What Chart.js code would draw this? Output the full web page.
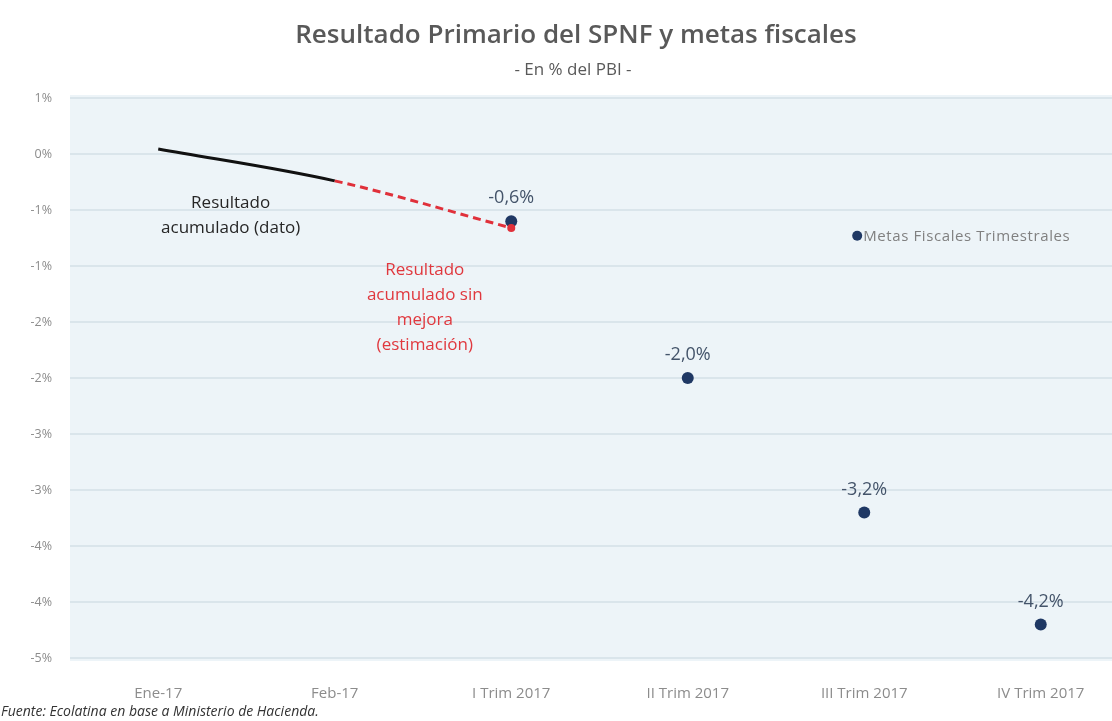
<!DOCTYPE html>
<html>
<head>
<meta charset="utf-8">
<script src="https://cdn.jsdelivr.net/npm/chart.js@4.4.1/dist/chart.umd.min.js"></script>
<style>
  html, body { margin: 0; padding: 0; background: #ffffff; overflow: hidden; }
  #wrap { position: relative; width: 1140px; height: 721px; }
  #title { position: absolute; left: 0; width: 1152px; top: 15px; text-align: center;
           font: 600 26px "Open Sans", sans-serif; color: #595959; }
  #subtitle { position: absolute; left: 0; width: 1146px; top: 57px; text-align: center;
              font: 17px "Open Sans", sans-serif; color: #595959; }
  #source { position: absolute; left: 1px; top: 701px;
            font: italic 14px "Open Sans", sans-serif; color: #333333; }
</style>
</head>
<body>
<div id="wrap">
  <canvas id="chart" width="1140" height="721"></canvas>
  <div id="title">Resultado Primario del SPNF y metas fiscales</div>
  <div id="subtitle">- En % del PBI -</div>
  <div id="source">Fuente: Ecolatina en base a Ministerio de Hacienda.</div>
</div>
<script>
// categories on the x axis
const labels = ['Ene-17', 'Feb-17', 'I Trim 2017', 'II Trim 2017', 'III Trim 2017', 'IV Trim 2017'];

// cumulative result: real data (Ene, Feb) then estimate without improvement (to I Trim)
const resultado = [0.045, -0.24, -0.66, null, null, null];
// quarterly fiscal targets
const metas = [null, null, -0.6, -2.0, -3.2, -4.2];
const metasLabels = ['', '', '-0,6%', '-2,0%', '-3,2%', '-4,2%'];

// y axis
const yMin = -4.5;
const yMax = 0.5;
const yStep = 0.5;

// text notes placed in data space: [category index, value of first line]
const noteDato = { lines: ['Resultado', 'acumulado (dato)'], at: [0.41, -0.44], color: '#262626' };
const noteEstim = { lines: ['Resultado', 'acumulado sin', 'mejora', '(estimación)'], at: [1.51, -1.04], color: '#e0383e' };
const legendAt = [3.96, -0.73];

const BLUE = '#1f3864';
const RED = '#e0303a';
const FONT = '"Open Sans", sans-serif';

const fmtPct = (v) => {
    let r = Math.round(Math.abs(v));
    if (r === 0) return '0%';
    return (v < 0 ? '-' : '') + r + '%';
};

const plotBg = {
    id: 'plotBg',
    beforeDraw(chart) {
        const { ctx, chartArea: a } = chart;
        ctx.save();
        ctx.fillStyle = '#edf4f8';
        ctx.fillRect(a.left, a.top - 3, a.right - a.left, a.bottom - a.top + 6);
        ctx.restore();
    }
};

const notes = {
    id: 'notes',
    afterDatasetsDraw(chart) {
        const { ctx } = chart;
        const x = chart.scales.x, y = chart.scales.y;
        ctx.save();
        ctx.textAlign = 'center';
        ctx.textBaseline = 'middle';
        ctx.font = '17px ' + FONT;
        for (const n of [noteDato, noteEstim]) {
            ctx.fillStyle = n.color;
            const px = x.getPixelForValue(n.at[0]);
            const py = y.getPixelForValue(n.at[1]);
            n.lines.forEach((t, i) => ctx.fillText(t, px, py + i * 25));
        }
        // data labels over the targets
        ctx.fillStyle = '#44546a';
        ctx.font = '18px ' + FONT;
        const meta = chart.getDatasetMeta(1);
        meta.data.forEach((pt, i) => {
            if (metas[i] === null) return;
            ctx.fillText(metasLabels[i], pt.x, pt.y - 23);
        });
        // legend inside plot
        const lx = x.getPixelForValue(legendAt[0]);
        const ly = y.getPixelForValue(legendAt[1]);
        ctx.fillStyle = BLUE;
        ctx.beginPath();
        ctx.arc(lx, ly, 5, 0, Math.PI * 2);
        ctx.fill();
        ctx.textAlign = 'left';
        ctx.fillStyle = '#808080';
        ctx.font = '15px ' + FONT;
        ctx.letterSpacing = '0.6px';
        ctx.fillText(chart.data.datasets[1].label, lx + 6, ly + 1);
        ctx.restore();
    }
};

new Chart(document.getElementById('chart'), {
    type: 'line',
    data: {
        labels: labels,
        datasets: [
            {
                label: 'Resultado acumulado',
                data: resultado,
                borderWidth: 3,
                borderColor: '#111111',
                cubicInterpolationMode: 'monotone',
                segment: {
                    borderColor: (c) => c.p0DataIndex >= 1 ? RED : '#111111',
                    borderDash: (c) => c.p0DataIndex >= 1 ? [8, 5] : undefined
                },
                pointRadius: [0, 0, 4, 0, 0, 0],
                pointBackgroundColor: RED,
                pointBorderWidth: 0,
                spanGaps: false
            },
            {
                label: 'Metas Fiscales Trimestrales',
                data: metas,
                showLine: false,
                pointRadius: 6,
                pointBackgroundColor: BLUE,
                pointBorderColor: BLUE,
                pointBorderWidth: 0
            }
        ]
    },
    options: {
        responsive: false,
        animation: false,
        layout: { padding: { top: 98, right: 11, left: 0, bottom: 0 } },
        plugins: {
            legend: { display: false },
            tooltip: { enabled: false }
        },
        scales: {
            x: {
                offset: true,
                grid: { display: false },
                border: { display: false },
                ticks: { color: '#8c8c8c', font: { family: 'Open Sans', size: 15 }, padding: 19 },
                afterFit: (s) => { s.height = 63; }
            },
            y: {
                min: yMin,
                max: yMax,
                ticks: {
                    stepSize: yStep,
                    color: '#8c8c8c',
                    font: { family: 'Open Sans', size: 12.5 },
                    padding: 18,
                    callback: (v) => fmtPct(v)
                },
                grid: { color: '#dae5eb', lineWidth: 2, drawTicks: false },
                border: { display: false },
                afterFit: (s) => { s.width = 70; }
            }
        }
    },
    plugins: [plotBg, notes]
});
</script>
</body>
</html>
